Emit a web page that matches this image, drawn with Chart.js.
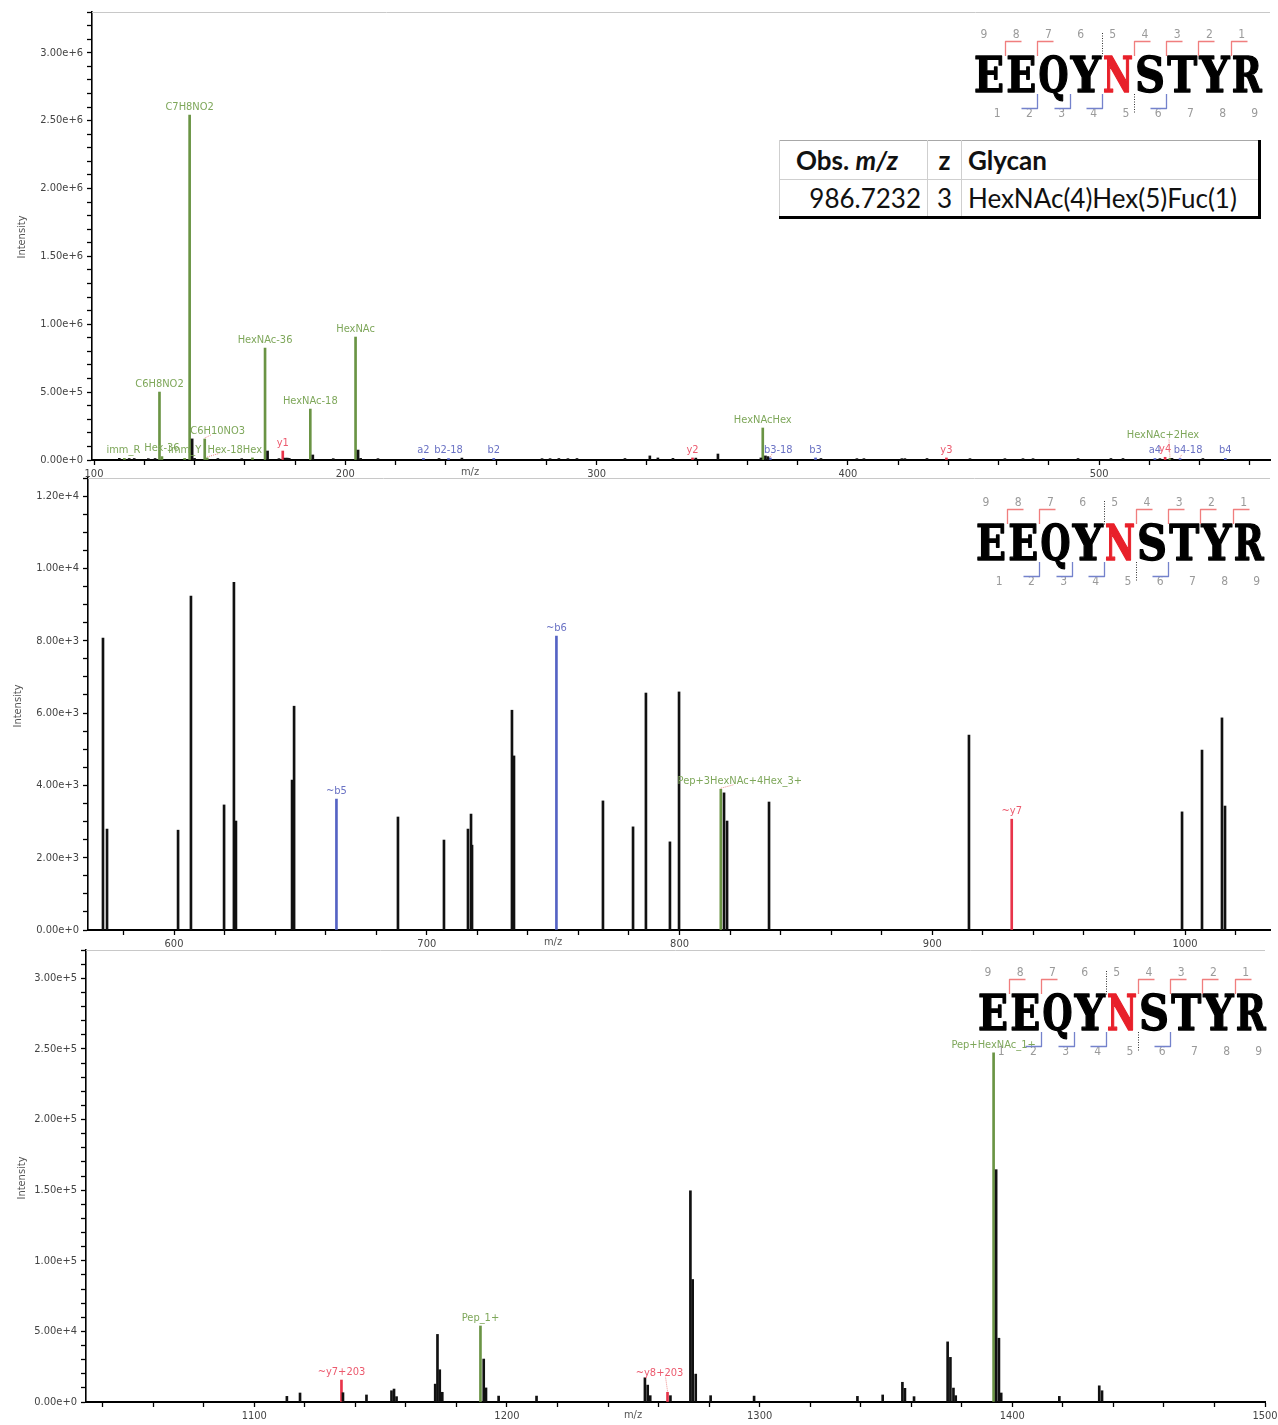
<!DOCTYPE html>
<html>
<head>
<meta charset="utf-8">
<title>EEQYNSTYR glycopeptide MS/MS spectrum</title>
<script src="https://cdn.jsdelivr.net/npm/chart.js@4.4.1/dist/chart.umd.min.js"></script>
<style>
  html, body { margin: 0; padding: 0; background: #fff; }
  body { position: relative; width: 1278px; height: 1425px; overflow: hidden; }
  canvas.spec { position: absolute; left: 0; }
  #glycoTable {
    position: absolute; left: 779px; top: 140px; z-index: 3;
    border-collapse: collapse; table-layout: fixed; background: #fff;
    font-family: Lato, "Open Sans", sans-serif; color: #111;
    border-top: 1px solid #a8a8a8; border-left: 1px solid #555;
    border-right: 3px solid #000; border-bottom: 3px solid #000;
  }
  #glycoTable th, #glycoTable td {
    padding: 0; border: 1px solid #cfcfcf; white-space: nowrap; font-size: 26px;
  }
  #glycoTable tr:first-child th { border-top: none; height: 38px; font-weight: 700; }
  #glycoTable td { height: 36px; }
  #glycoTable .c1 { width: 147px; }
  #glycoTable .c2 { width: 33px; text-align: center; }
  #glycoTable .c3 { width: 296px; text-align: left; padding-left: 6px; }
  #glycoTable th.c1 { text-align: left; padding-left: 16px; width: 131px; }
  #glycoTable td.c1 { text-align: right; padding-right: 6px; width: 141px; }
  #glycoTable th.c3, #glycoTable td.c3 { border-right: none; width: 290px; }
  #glycoTable tr:last-child td { border-bottom: none; }
</style>
</head>
<body>
<canvas id="specLow" class="spec" width="1278" height="490" style="top:0px"></canvas>
<canvas id="specMid" class="spec" width="1278" height="490" style="top:470px"></canvas>
<canvas id="specHigh" class="spec" width="1278" height="485" style="top:940px"></canvas>
<table id="glycoTable"></table>

<script>
// ---------------- precursor summary ----------------
const obsMz = '986.7232';
const chargeState = '3';
const glycanComposition = 'HexNAc(4)Hex(5)Fuc(1)';

// ---------------- peptide sequence & observed fragment series ----------------
const peptideSeq = 'EEQYNSTYR';
const glycoSiteIndex = 4;            // N (0-based)
const yIonsFound = [1, 2, 3, 4, 7, 8];
const yIonsGlyco = [5];              // dotted marker
const bIonsFound = [2, 3, 4, 6];
const bIonsGlyco = [5];              // dotted marker

// ---------------- window 1: m/z 99-568 ----------------
const lowPeakMz = [110.07, 114.0, 116.0, 121.6, 124.3, 139.06, 140.0, 149.3, 158.8, 169.07,
  173.6, 176.0, 176.9, 177.7, 187.08, 195.2, 205.09, 206.1, 213.0, 237.3,
  246.4, 278.3, 281.5, 285.0, 288.6, 292.2, 311.3, 321.2, 324.4, 330.4,
  339.5, 348.3, 365.4, 367.2, 368.2, 389.3, 403.6, 406.4, 421.5, 422.7,
  431.5, 448.6, 462.5, 469.7, 473.7, 491.6, 504.7, 509.5, 524.2, 529.0, 541.3];
const lowPeakInt = [12000, 11000, 11000, 10000, 11000, 155000, 12000, 11000, 10000, 66000,
  10000, 14000, 14000, 12000, 37000, 10000, 73000, 12000, 10000, 11000,
  14000, 10000, 10000, 11000, 10000, 11000, 11000, 30000, 15000, 12000,
  14000, 44000, 15000, 30000, 25000, 11000, 10000, 10000, 10000, 10000,
  11000, 10000, 10000, 10000, 10000, 11000, 11000, 11000, 10000, 12000, 11000];
const lowIonMz = [112.09, 126.055, 127.039, 136.076, 138.055, 144.065, 145.050, 163.060, 168.065, 175.119,
  186.076, 204.087, 231.098, 241.082, 259.093, 338.180, 366.140, 369.135, 387.145, 439.230,
  522.220, 526.260, 528.190, 532.210, 550.215];
const lowIonInt = [12000, 499000, 25000, 12000, 2533000, 154000, 15000, 15000, 822000, 66000,
  374000, 903000, 12000, 11000, 12000, 15000, 235000, 15000, 15000, 15000,
  11000, 20000, 12000, 11000, 12000];
const lowIonType = ['g', 'g', 'g', 'g', 'g', 'g', 'g', 'g', 'g', 'y',
  'g', 'g', 'b', 'b', 'b', 'y', 'g', 'b', 'b', 'y',
  'b', 'y', 'g', 'b', 'b'];
const lowIonLabel = ['imm_R', 'C6H8NO2', 'Hex-36', 'imm_Y', 'C7H8NO2', 'C6H10NO3', 'Hex-18', 'Hex', 'HexNAc-36', 'y1',
  'HexNAc-18', 'HexNAc', 'a2', 'b2-18', 'b2', 'y2', 'HexNAcHex', 'b3-18', 'b3', 'y3',
  'a4', 'y4', 'HexNAc+2Hex', 'b4-18', 'b4'];

// ---------------- window 2: m/z 566-1034 ----------------
const midPeakMz = [571.9, 573.5, 601.6, 606.7, 619.8, 623.7, 624.5, 646.7, 647.5, 688.6,
  706.8, 716.3, 717.5, 717.9, 733.7, 734.5, 769.7, 781.6, 786.7, 796.2,
  799.8, 817.6, 818.8, 835.4, 914.5, 998.8, 1006.7, 1014.6, 1015.8];
const midPeakInt = [7980, 2760, 2730, 9130, 3420, 9510, 2980, 4100, 6120, 3090,
  2460, 2760, 3170, 2320, 6010, 4760, 3530, 2820, 6480, 2410,
  6510, 3750, 2980, 3500, 5330, 3230, 4920, 5800, 3390];
const midIonMz = [664.26, 751.29, 816.33, 931.42];
const midIonInt = [3580, 8040, 3850, 3030];
const midIonType = ['b', 'b', 'g', 'y'];
const midIonLabel = ['~b5', '~b6', 'Pep+3HexNAc+4Hex_3+', '~y7'];

// ---------------- window 3: m/z 1033-1500 ----------------
const highPeakMz = [1112.9, 1118.1, 1135.1, 1144.4, 1154.3, 1155.3, 1156.3, 1171.6, 1172.5, 1173.4,
  1174.4, 1190.8, 1191.7, 1196.7, 1211.7, 1254.6, 1255.7, 1256.7, 1264.7, 1272.6,
  1273.5, 1274.7, 1280.6, 1297.8, 1338.7, 1348.7, 1356.5, 1357.5, 1361.1, 1374.4,
  1375.5, 1376.7, 1377.6, 1393.6, 1394.7, 1395.6, 1418.6, 1434.4, 1435.5];
const highPeakInt = [4000, 6400, 6600, 5000, 8000, 9200, 3800, 12700, 48000, 22900,
  6900, 30500, 10000, 4200, 4200, 17200, 12000, 4500, 4500, 150000,
  87000, 19800, 4500, 4200, 4000, 5000, 14000, 9700, 3800, 42700,
  31700, 9900, 4500, 165000, 45300, 6400, 4000, 11500, 8000];
const highIonMz = [1134.5, 1189.51, 1263.54, 1392.59];
const highIonInt = [15600, 54000, 6900, 248000];
const highIonType = ['y', 'g', 'y', 'g'];
const highIonLabel = ['~y7+203', 'Pep_1+', '~y8+203', 'Pep+HexNAc_1+'];

// ---------------- styling ----------------
const FONT = '"DejaVu Sans Condensed", "DejaVu Sans", sans-serif';
Chart.defaults.font.family = FONT;
Chart.defaults.font.size = 11;
Chart.defaults.color = '#444';

const barColor = { k: '#111111', g: '#6a9444', b: '#5563c4', y: '#e8344a' };
const textColor = { g: '#7ea75a', b: '#6a72c4', y: '#ec5a6e' };
// label shifts (px) where labels are pushed aside to avoid neighbours
const labelShift = {
  'imm_R': [-1, 0], 'C6H10NO3': [13, 0], 'Hex-18': [18, 0], 'b3-18': [8, 0], 'b4-18': [8, 0],
  'HexNAc+2Hex': [-7, -15], 'Pep+3HexNAc+4Hex_3+': [19, 0], '~y8+203': [-8, -11]
};

// ---------------- summary table ----------------
(function buildTable() {
  const t = document.getElementById('glycoTable');
  t.innerHTML =
    '<tr><th class="c1">Obs. <i>m/z</i></th><th class="c2">z</th><th class="c3">Glycan</th></tr>' +
    '<tr><td class="c1">' + obsMz + '</td><td class="c2">' + chargeState + '</td><td class="c3">' + glycanComposition + '</td></tr>';
})();

// ---------------- peptide fragment map ----------------
function drawPeptide(ctx, ox, oy) {
  const x0 = 973 + ox, pitch = 32.2, base = 92 + oy;
  ctx.save();
  ctx.textAlign = 'center';
  ctx.textBaseline = 'alphabetic';
  ctx.font = 'bold 48px "DejaVu Serif", "Liberation Serif", serif';
  ctx.lineJoin = 'round';
  for (let i = 0; i < peptideSeq.length; i++) {
    const ch = peptideSeq[i];
    const w = ctx.measureText(ch).width;
    const sx = Math.min(1, 30 / w);
    const col = i === glycoSiteIndex ? '#e8202a' : '#000';
    ctx.save();
    ctx.translate(x0 + pitch * i + pitch / 2, base);
    ctx.scale(sx, 1);
    ctx.fillStyle = col;
    ctx.strokeStyle = col;
    ctx.lineWidth = 1.4;
    ctx.fillText(ch, 0, 0);
    ctx.strokeText(ch, 0, 0);
    ctx.restore();
  }
  // residue counters
  ctx.font = '12px ' + FONT;
  ctx.fillStyle = '#9a9a9a';
  ctx.textBaseline = 'middle';
  const n = peptideSeq.length;
  for (let j = 0; j < n; j++) ctx.fillText(String(n - j), x0 + pitch * j + 11, 35 + oy);
  for (let i = 1; i <= n; i++) ctx.fillText(String(i), x0 + pitch * i - 8, 114 + oy);
  // y-ion brackets (above)
  ctx.lineWidth = 1.3;
  ctx.strokeStyle = '#f07e7e';
  yIonsFound.forEach(k => {
    const bx = Math.round(x0 + pitch * (n - k)) + 0.5;
    ctx.beginPath();
    ctx.moveTo(bx, 56 + oy); ctx.lineTo(bx, 41.5 + oy); ctx.lineTo(bx + 16, 41.5 + oy);
    ctx.stroke();
  });
  // b-ion brackets (below)
  ctx.strokeStyle = '#7482cc';
  bIonsFound.forEach(k => {
    const bx = Math.round(x0 + pitch * k) + 0.5;
    ctx.beginPath();
    ctx.moveTo(bx, 94 + oy); ctx.lineTo(bx, 108.5 + oy); ctx.lineTo(bx - 16, 108.5 + oy);
    ctx.stroke();
  });
  // glycosylated fragment markers
  ctx.strokeStyle = '#333';
  ctx.lineWidth = 1;
  ctx.setLineDash([1, 1.5]);
  yIonsGlyco.forEach(k => {
    const bx = Math.round(x0 + pitch * (n - k)) + 0.5;
    ctx.beginPath(); ctx.moveTo(bx, 33 + oy); ctx.lineTo(bx, 57 + oy); ctx.stroke();
  });
  bIonsGlyco.forEach(k => {
    const bx = Math.round(x0 + pitch * k) + 0.5;
    ctx.beginPath(); ctx.moveTo(bx, 94 + oy); ctx.lineTo(bx, 114 + oy); ctx.stroke();
  });
  ctx.restore();
}

// ---------------- decorations plugin ----------------
const spectrumDecor = {
  id: 'spectrumDecor',
  afterDatasetsDraw(chart) {
    const o = chart.options.plugins.spectrumDecor;
    const { ctx, chartArea } = chart;
    const xs = chart.scales.x, ys = chart.scales.y;
    ctx.save();
    // light frame line along the top of the plot
    ctx.strokeStyle = '#c8c8c8';
    ctx.lineWidth = 1;
    ctx.beginPath();
    ctx.moveTo(chartArea.left, chartArea.top + 0.5);
    ctx.lineTo(chartArea.right, chartArea.top + 0.5);
    ctx.stroke();
    // ion annotations
    ctx.font = '11px ' + FONT;
    ctx.textAlign = 'center';
    ctx.textBaseline = 'bottom';
    o.mz.forEach((mz, i) => {
      const label = o.labels[i];
      const px = xs.getPixelForValue(mz);
      const py = ys.getPixelForValue(o.intensity[i]);
      const sh = labelShift[label] || [0, 0];
      const lx = px + sh[0], ly = py - 2.5 + sh[1];
      if (Math.abs(sh[0]) > 2 || sh[1] !== 0) {
        ctx.save();
        ctx.strokeStyle = '#ee8a8a';
        ctx.setLineDash([1, 1]);
        ctx.lineWidth = 1;
        ctx.beginPath();
        ctx.moveTo(px, py - 1);
        ctx.lineTo(lx - Math.sign(sh[0]) * 6, ly - 2);
        ctx.stroke();
        ctx.restore();
      }
      ctx.fillStyle = textColor[o.types[i]];
      ctx.fillText(label, lx, ly);
    });
    ctx.restore();
  },
  afterDraw(chart) {
    const o = chart.options.plugins.spectrumDecor;
    const ctx = chart.ctx;
    ctx.save();
    ctx.fillStyle = '#555';
    ctx.font = '11px ' + FONT;
    ctx.textAlign = 'center';
    ctx.textBaseline = 'middle';
    ctx.fillText('m/z', o.mzTitle[0], o.mzTitle[1]);
    ctx.save();
    ctx.translate(o.intTitle[0], o.intTitle[1]);
    ctx.rotate(-Math.PI / 2);
    ctx.fillText('Intensity', 0, 0);
    ctx.restore();
    ctx.restore();
    drawPeptide(ctx, o.pepOffset[0], o.pepOffset[1]);
  }
};

function makeSpectrum(cfg) {
  const black = cfg.peakMz.map((x, i) => ({ x, y: cfg.peakInt[i] }));
  const sets = [{ data: black, backgroundColor: barColor.k }];
  ['g', 'b', 'y'].forEach(t => {
    const pts = [];
    cfg.ionMz.forEach((x, i) => { if (cfg.ionType[i] === t) pts.push({ x, y: cfg.ionInt[i] }); });
    if (pts.length) sets.push({ data: pts, backgroundColor: barColor[t] });
  });
  sets.forEach(s => {
    s.barThickness = 2; s.borderWidth = 0; s.grouped = false;
    s.categoryPercentage = 1; s.barPercentage = 1;
  });
  return new Chart(document.getElementById(cfg.id), {
    type: 'bar',
    data: { datasets: sets },
    options: {
      responsive: false, animation: false, devicePixelRatio: 1,
      layout: { padding: { top: cfg.padTop, bottom: cfg.padBottom, right: cfg.padRight, left: 0 } },
      plugins: {
        legend: { display: false }, tooltip: { enabled: false },
        spectrumDecor: {
          mz: cfg.ionMz, intensity: cfg.ionInt, types: cfg.ionType, labels: cfg.ionLabel,
          mzTitle: cfg.mzTitle, intTitle: cfg.intTitle, pepOffset: cfg.pepOffset
        }
      },
      scales: {
        x: {
          type: 'linear', min: cfg.xMin, max: cfg.xMax, offset: false,
          afterFit: s => { s.height = 20; s.paddingLeft = 0; s.paddingRight = 0; },
          border: { display: true, color: '#000', width: 2 },
          grid: { offset: false, drawOnChartArea: false, drawTicks: true, tickLength: 5, tickColor: '#000', tickWidth: 1.3 },
          ticks: {
            stepSize: 20, autoSkip: false, maxRotation: 0, padding: 3, color: '#444',
            includeBounds: false,
            callback: v => (Math.round(v) % 100 === 0 ? String(Math.round(v)) : '')
          }
        },
        y: {
          min: 0, max: cfg.yMax,
          afterFit: s => { s.width = cfg.yWidth; s.paddingTop = 0; s.paddingBottom = 0; },
          border: { display: true, color: '#000', width: 1.6 },
          grid: { drawOnChartArea: false, drawTicks: true, tickLength: 5, tickColor: '#000', tickWidth: 1.3 },
          ticks: {
            stepSize: cfg.yStep, autoSkip: false, padding: 4, color: '#444', includeBounds: false,
            callback: v => {
              const k = Math.round(v / cfg.yStep);
              return k % cfg.yLabelEvery === 0 ? (k * cfg.yStep).toExponential(2) : '';
            }
          }
        }
      }
    },
    plugins: [spectrumDecor]
  });
}

makeSpectrum({
  id: 'specLow', peakMz: lowPeakMz, peakInt: lowPeakInt,
  ionMz: lowIonMz, ionInt: lowIonInt, ionType: lowIonType, ionLabel: lowIonLabel,
  xMin: 99.2, xMax: 568, yMax: 3.29e6, yStep: 1e5, yLabelEvery: 5,
  padTop: 12, padBottom: 10, padRight: 8, yWidth: 92,
  mzTitle: [470, 472], intTitle: [22, 237], pepOffset: [0, 0]
});
makeSpectrum({
  id: 'specMid', peakMz: midPeakMz, peakInt: midPeakInt,
  ionMz: midIonMz, ionInt: midIonInt, ionType: midIonType, ionLabel: midIonLabel,
  xMin: 565.97, xMax: 1033.6, yMax: 12360, yStep: 500, yLabelEvery: 4,
  padTop: 8, padBottom: 10, padRight: 8, yWidth: 88,
  mzTitle: [553, 472], intTitle: [18, 236], pepOffset: [2, -2]
});
makeSpectrum({
  id: 'specHigh', peakMz: highPeakMz, peakInt: highPeakInt,
  ionMz: highIonMz, ionInt: highIonInt, ionType: highIonType, ionLabel: highIonLabel,
  xMin: 1033.4, xMax: 1500, yMax: 321000, yStep: 10000, yLabelEvery: 5,
  padTop: 10, padBottom: 3, padRight: 13, yWidth: 86,
  mzTitle: [633, 475], intTitle: [22, 238], pepOffset: [4, -2]
});
</script>
</body>
</html>
